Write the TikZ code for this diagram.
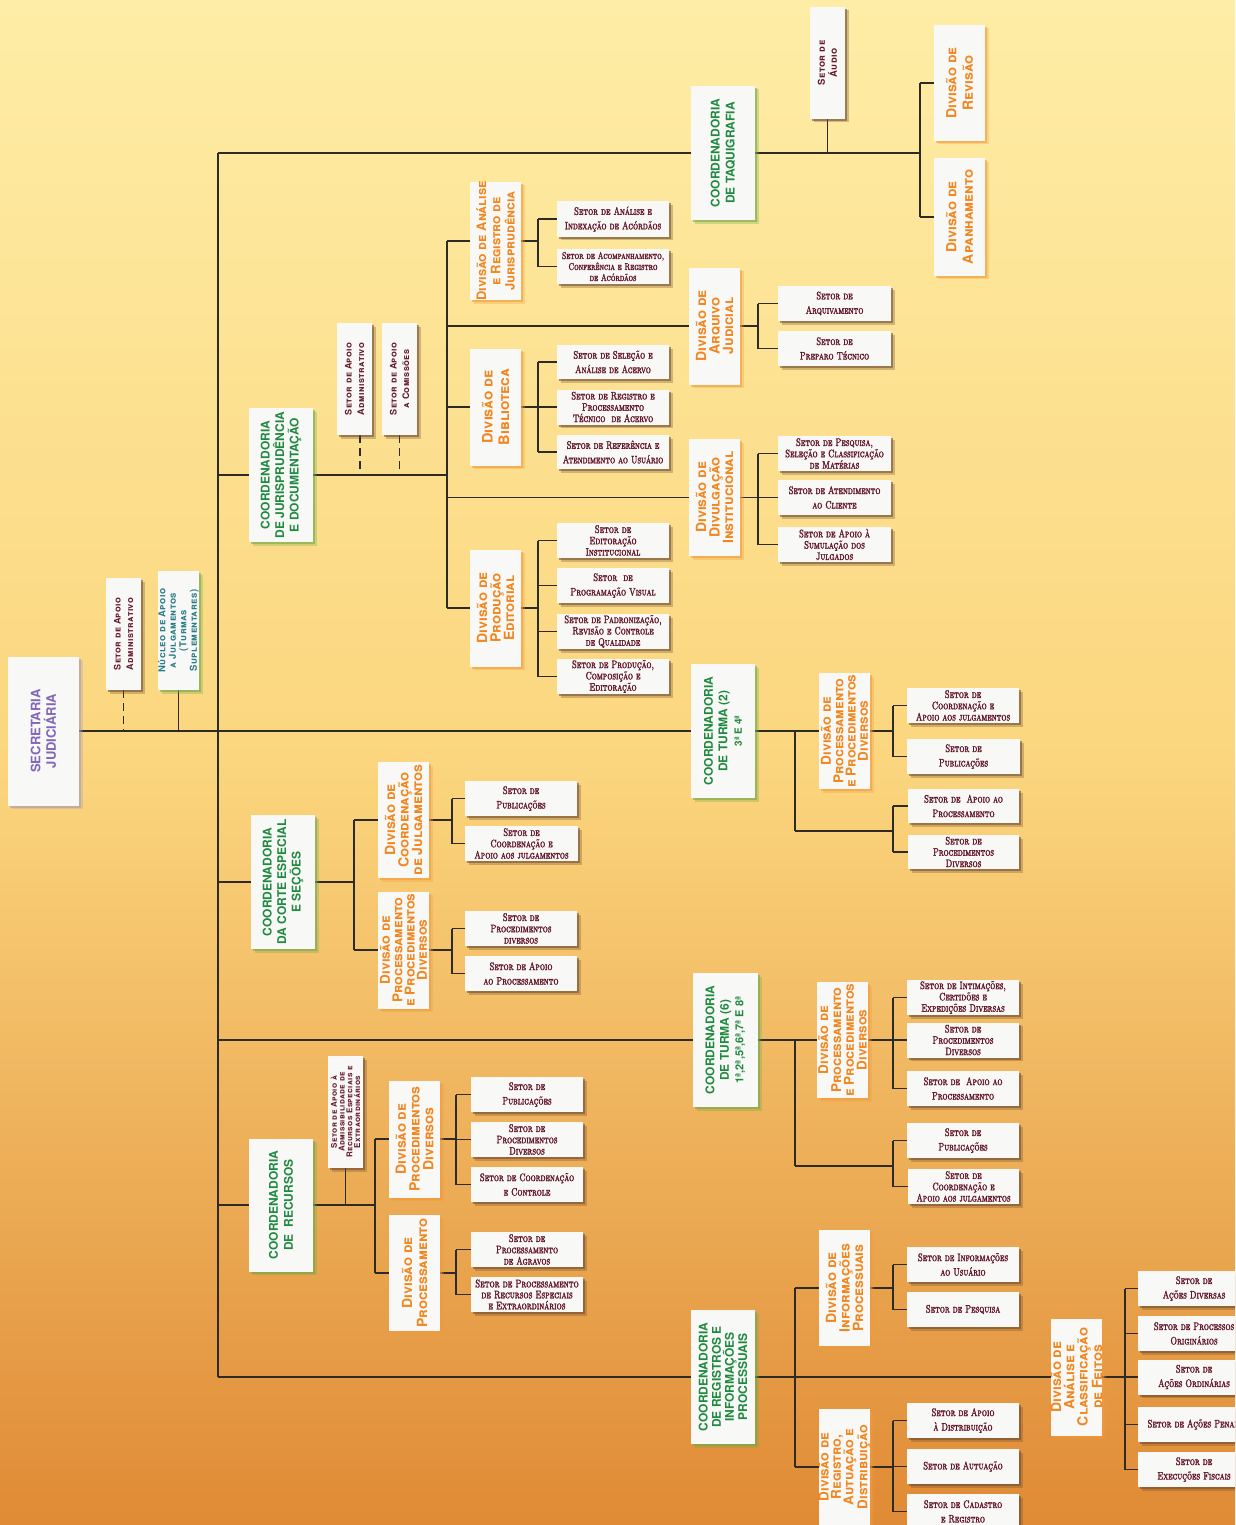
\documentclass[tikz,border=0pt]{standalone}
\usepackage{fontspec}
\setmainfont{TeX Gyre Heros}
\newfontfamily\hfont{TeX Gyre Heros}
\newfontfamily\divfont{TeX Gyre Heros}[Letters=SmallCaps]
\newfontfamily\smscfont{TeX Gyre Heros}[Letters=SmallCaps, LetterSpace=5]
\newfontfamily\setorfont{lmromancaps10-regular.otf}[FakeStretch=0.74, FakeBold=2.2]
\usetikzlibrary{shadows}
\definecolor{grn}{HTML}{1F8A3F}
\definecolor{org}{HTML}{F2861E}
\definecolor{mar}{HTML}{65182A}
\definecolor{pur}{HTML}{8466B8}
\definecolor{tea}{HTML}{2B7C88}
\definecolor{boxw}{HTML}{F8F8F7}
\definecolor{lnc}{HTML}{2E2A25}
\definecolor{shb}{HTML}{6E4A2E}
\definecolor{sho}{HTML}{F29A3A}
\definecolor{shg}{HTML}{6FA84A}
\definecolor{shp}{HTML}{A89CB0}
\definecolor{bgT}{HTML}{FEEDA6}
\definecolor{bgM}{HTML}{FBD67E}
\definecolor{bgB}{HTML}{E08A35}
\pgfdeclarelayer{background}
\pgfdeclarelayer{lines}
\pgfsetlayers{background,lines,main}
\tikzset{
  ln/.style={line width=1.2pt, draw=lnc},
  lnd/.style={ln, dash pattern=on 8pt off 5pt},
  box/.style={fill=boxw, inner sep=0pt, outer sep=0pt},
  shd/.style={box,
    drop shadow={shadow xshift=3.5pt,shadow yshift=-3.5pt,fill=#1,opacity=.3},
    drop shadow={shadow xshift=2pt,shadow yshift=-2pt,fill=#1,opacity=.55}},
  sbox/.style={shd=shb},
  dbox/.style={shd=sho},
  cbox/.style={shd=shg},
  pbox/.style={shd=shp},
  settx/.style={font=\setorfont\fontsize{10.8}{11.3}\selectfont, text=mar, align=center, inner sep=0pt},
  two/.style={font=\setorfont\fontsize{10.8}{14.5}\selectfont},
  sfs/.style 2 args={font=\setorfont\fontsize{#1}{#2}\selectfont},
  divtx/.style={rotate=90, font=\divfont\bfseries\fontsize{14}{13.5}\selectfont, text=org, align=center, inner sep=0pt},
  dfs/.style 2 args={font=\divfont\bfseries\fontsize{#1}{#2}\selectfont},
  coortx/.style={rotate=90, font=\hfont\bfseries\fontsize{12}{14.5}\selectfont, text=grn, align=center, inner sep=0pt},
  cfs/.style 2 args={font=\hfont\bfseries\fontsize{#1}{#2}\selectfont},
  smtx/.style={rotate=90, font=\smscfont\bfseries\fontsize{9}{12.5}\selectfont, text=mar, align=center, inner sep=0pt},
  smfs/.style 2 args={font=\smscfont\bfseries\fontsize{#1}{#2}\selectfont},
  sectx/.style={rotate=90, font=\hfont\bfseries\fontsize{13}{15.5}\selectfont, text=pur, align=center, inner sep=0pt},
}
\newcommand\bx[8]{\node[#1,minimum width=#5pt,minimum height=#6pt] (#2) at (#3,#4) {};
  \node[#7] at (#2.center) {#8};}
\newcommand\tree[5]{%
  \coordinate (tjx) at (#2,0);
  \draw[ln] (#1) -- (#1 -| tjx);
  \draw[ln] (#3.west -| tjx) -- (#4.west -| tjx);
  \foreach \c in {#5}{\draw[ln] (\c.west) -- (\c.west -| tjx);}
}
\begin{document}
\begin{tikzpicture}[x=1pt,y=-1pt]
\useasboundingbox (0,0) rectangle (1235,1525);
\begin{pgfonlayer}{background}
\shade[top color=bgT, bottom color=bgB, middle color=bgM] (0,0) rectangle (1235,1525);
\end{pgfonlayer}
\clip (0,0) rectangle (1235,1525);

% Secretaria
\bx{pbox}{sec}{43.5}{731}{71}{149}{sectx}{SECRETARIA\\JUDICIÁRIA}
\bx{sbox}{saaA}{123.5}{634}{35}{112}{smtx}{Setor de Apoio\\Administrativo}
\bx{cbox}{nuc}{178.5}{630.5}{41}{119}{smtx,smfs={9.5}{10.5},text=tea}{Núcleo de Apoio\\a Julgamentos\\(Turmas\\Suplementares)}

% Taquigrafia
\bx{cbox}{taq}{723}{153}{64}{134}{coortx,cfs={12}{15}}{COORDENADORIA\\DE TAQUIGRAFIA}
\bx{sbox}{aud}{827.5}{63}{35}{112}{smtx,smfs={9.5}{12}}{Setor de\\Áudio}
\bx{dbox}{rev}{959.5}{83}{51}{116}{divtx,dfs={14}{16.5}}{Divisão de\\Revisão}
\bx{dbox}{apan}{959.5}{217}{51}{117}{divtx,dfs={14}{16.5}}{Divisão de\\Apanhamento}

% Jurisprudencia
\bx{cbox}{jur}{281}{475}{64}{134}{coortx}{COORDENADORIA\\DE JURISPRUDÊNCIA\\E DOCUMENTAÇÃO}
\bx{sbox}{saaB}{354.5}{379}{35}{112}{smtx}{Setor de Apoio\\Administrativo}
\bx{sbox}{sac}{399.5}{379}{35}{112}{smtx}{Setor de Apoio\\a Comissões}

\bx{dbox}{dAJ}{495.5}{241}{51}{118}{divtx,dfs={13}{14.2}}{Divisão de Análise\\e Registro de\\Jurisprudência}
\bx{sbox}{sAI}{613}{219}{112}{35}{settx,two}{Setor de Análise e\\Indexação de Acórdãos}
\bx{sbox}{sACR}{613}{266.5}{112}{35}{settx,sfs={9.8}{11}}{Setor de Acompanhamento,\\Conferência e Registro\\de Acórdãos}

\bx{dbox}{dARQ}{714.5}{326}{51}{117}{divtx}{Divisão de\\Arquivo\\Judicial}
\bx{sbox}{sARQV}{834.5}{303.5}{113}{35}{settx,two}{Setor de\\Arquivamento}
\bx{sbox}{sPREP}{834.5}{348.5}{113}{35}{settx,two}{Setor de\\Preparo Técnico}

\bx{dbox}{dBIB}{495.5}{407}{51}{117}{divtx,dfs={14.5}{16.5}}{Divisão de\\Biblioteca}
\bx{sbox}{sSEL}{613}{362}{112}{34}{settx,two}{Setor de Seleção e\\Análise de Acervo}
\bx{sbox}{sREG}{613}{407}{112}{35}{settx}{Setor de Registro e\\Processamento\\Técnico\ \ de Acervo}
\bx{sbox}{sREF}{613}{452}{112}{34}{settx,two}{Setor de Referência e\\Atendimento ao Usuário}

\bx{dbox}{dDIV}{714.5}{497.5}{51}{117}{divtx}{Divisão de\\Divulgação\\Institucional}
\bx{sbox}{sPESQ}{834.5}{453.5}{113}{35}{settx}{Setor de Pesquisa,\\Seleção e Classificação\\de Matérias}
\bx{sbox}{sATEN}{834.5}{497.5}{113}{35}{settx,two}{Setor de Atendimento\\ao Cliente}
\bx{sbox}{sSIM}{834.5}{544.5}{113}{35}{settx}{Setor de Apoio à\\Sumulação dos\\Julgados}

\bx{dbox}{dPROD}{495.5}{608}{51}{117}{divtx}{Divisão de\\Produção\\Editorial}
\bx{sbox}{sEDIT}{613}{540.5}{112}{35}{settx}{Setor de\\Editoração\\Institucional}
\bx{sbox}{sPROG}{613}{585.5}{112}{35}{settx,two}{Setor\ \ de\\Programação Visual}
\bx{sbox}{sPADR}{613}{631.5}{112}{35}{settx}{Setor de Padronização,\\Revisão e Controle\\de Qualidade}
\bx{sbox}{sPRODC}{613}{676.5}{112}{35}{settx}{Setor de Produção,\\Composição e\\Editoração}

% Turma 2
\bx{cbox}{tTwo}{723}{731}{64}{134}{coortx}{COORDENADORIA\\DE TURMA (2)\\{\fontsize{10}{12}\selectfont 3ª E 4ª}}
\bx{dbox}{dTwo}{844.5}{731}{51}{116}{divtx,dfs={13.5}{12.3}}{Divisão de\\Processamento\\e Procedimentos\\Diversos}
\bx{sbox}{sTwoA}{963}{705.5}{112}{35}{settx}{Setor de\\Coordenação e\\Apoio aos julgamentos}
\bx{sbox}{sTwoB}{963.5}{756.5}{113}{35}{settx,two}{Setor de\\Publicações}
\bx{sbox}{sTwoC}{963.5}{806}{111}{34}{settx,two}{Setor de\ \ Apoio ao\\Processamento}
\bx{sbox}{sTwoD}{963.5}{852}{111}{34}{settx}{Setor de\\Procedimentos\\Diversos}

% Corte especial
\bx{cbox}{corte}{283}{882}{64}{134}{coortx}{COORDENADORIA\\DA CORTE ESPECIAL\\E SEÇÕES}
\bx{dbox}{dCJ}{403.5}{820}{51}{116}{divtx}{Divisão de\\Coordenação\\de Julgamentos}
\bx{dbox}{dCPD}{403.5}{950}{51}{117}{divtx,dfs={13.5}{12.3}}{Divisão de\\Processamento\\e Procedimentos\\Diversos}
\bx{sbox}{sCPUB}{521}{798.5}{112}{35}{settx,two}{Setor de\\Publicações}
\bx{sbox}{sCCOO}{521.5}{843.5}{113}{35}{settx}{Setor de\\Coordenação e\\Apoio aos julgamentos}
\bx{sbox}{sCPROC}{521}{928.5}{112}{35}{settx}{Setor de\\Procedimentos\\diversos}
\bx{sbox}{sCAPO}{521}{973.5}{112}{35}{settx,two}{Setor de Apoio\\ao Processamento}

% Turma 6
\bx{cbox}{tSix}{725.5}{1040}{65}{134}{coortx}{COORDENADORIA\\DE TURMA (6)\\{\fontsize{11}{12}\selectfont 1ª,2ª,5ª,6ª,7ª E 8ª}}
\bx{dbox}{dSix}{842.5}{1040}{51}{116}{divtx,dfs={13.5}{12.8}}{Divisão de\\Processamento\\e Procedimentos\\Diversos}
\bx{sbox}{sSixA}{963}{997.5}{112}{35}{settx}{Setor de Intimações,\\Certidões e\\Expedições Diversas}
\bx{sbox}{sSixB}{963}{1040}{112}{35}{settx}{Setor de\\Procedimentos\\Diversos}
\bx{sbox}{sSixC}{963}{1088.5}{112}{35}{settx,two}{Setor de\ \ Apoio ao\\Processamento}
\bx{sbox}{sSixD}{963}{1140.5}{112}{35}{settx,two}{Setor de\\Publicações}
\bx{sbox}{sSixE}{963.5}{1186.5}{111}{35}{settx}{Setor de\\Coordenação e\\Apoio aos julgamentos}

% Recursos
\bx{cbox}{rec}{281}{1205}{64}{133}{coortx,cfs={12}{15}}{COORDENADORIA\\DE\ \ RECURSOS}
\bx{sbox}{sADM}{345.5}{1112}{35}{112}{smtx,smfs={8}{7.8}}{Setor de Apoio à\\Admissibilidade de\\Recursos Especiais e\\Extraordinários}
\bx{dbox}{dRPD}{414.5}{1139}{51}{117}{divtx,dfs={14}{13.7}}{Divisão de\\Procedimentos\\Diversos}
\bx{dbox}{dRPROC}{414.5}{1273}{51}{116}{divtx,dfs={14}{15}}{Divisão de\\Processamento}
\bx{sbox}{sRPUB}{527}{1094.5}{112}{35}{settx,two}{Setor de\\Publicações}
\bx{sbox}{sRPROC}{527}{1139.5}{112}{35}{settx}{Setor de\\Procedimentos\\Diversos}
\bx{sbox}{sRCC}{527}{1184.5}{112}{35}{settx,two}{Setor de Coordenação\\e Controle}
\bx{sbox}{sRAGR}{527}{1249.5}{112}{35}{settx}{Setor de\\Processamento\\de Agravos}
\bx{sbox}{sRREC}{527}{1294.5}{112}{35}{settx,sfs={11}{11}}{Setor de Processamento\\de Recursos Especiais\\e Extraordinários}

% Registros
\bx{cbox}{reg}{723}{1377}{64}{134}{coortx,cfs={12}{13.2}}{COORDENADORIA\\DE REGISTROS E\\INFORMAÇÕES\\PROCESSUAIS}
\bx{dbox}{dINF}{844.5}{1288}{51}{116}{divtx}{Divisão de\\Informações\\Processuais}
\bx{dbox}{dRAUT}{844.5}{1467}{51}{117}{divtx,dfs={13.5}{12.4}}{Divisão de\\Registro,\\Autuação e\\Distribuição}
\bx{sbox}{sINFU}{963}{1264.5}{112}{35}{settx,two}{Setor de Informações\\ao Usuário}
\bx{sbox}{sPESQb}{963}{1309.5}{112}{35}{settx}{Setor de Pesquisa}
\bx{sbox}{sAPDIST}{963}{1420.5}{112}{35}{settx,two}{Setor de Apoio\\à Distribuição}
\bx{sbox}{sAUT}{963}{1466.5}{112}{35}{settx}{Setor de Autuação}
\bx{sbox}{sCAD}{963}{1511.5}{112}{35}{settx,two}{Setor de Cadastro\\e Registro}
\bx{dbox}{dACF}{1076.5}{1377}{51}{117}{divtx,dfs={14}{13.3}}{Divisão de\\Análise e\\Classificação\\de Feitos}
\bx{sbox}{sAD}{1194}{1288.5}{112}{35}{settx,two}{Setor de\\Ações Diversas}
\bx{sbox}{sPO}{1194}{1333.5}{112}{35}{settx,two}{Setor de Processos\\Originários}
\bx{sbox}{sAO}{1194}{1377}{112}{35}{settx,two}{Setor de\\Ações Ordinárias}
\bx{sbox}{sAP}{1194}{1424.5}{112}{35}{settx}{Setor de Ações Penais}
\bx{sbox}{sEF}{1194}{1469.5}{112}{35}{settx,two}{Setor de\\Execuções Fiscais}

% connectors
\coordinate (spT) at (218,153);
\coordinate (spB) at (218,1377);
\coordinate (tTwoJ) at (795,831);
\coordinate (tSixJ) at (795,1166);
\coordinate (saaBd) at ([xshift=5.5pt]saaB.south);
\begin{pgfonlayer}{lines}
\draw[ln] (spT) -- (spB);
\draw[ln] (sec.east) -- (tTwo.west);
\draw[lnd] (saaA.south) -- (saaA.south |- sec.east);
\draw[ln] (nuc.south) -- (nuc.south |- sec.east);
% taquigrafia
\draw[ln] (spT) -- (taq.west);
\tree{taq.east}{920}{rev}{apan}{rev,apan}
\draw[ln] (aud.south) -- (aud.south |- taq.east);
% jurisprudencia
\draw[ln] (jur.west -| spT) -- (jur.west);
\tree{jur.east}{447}{dAJ}{dPROD}{dAJ,dARQ,dBIB,dDIV,dPROD}
\draw[lnd] (saaBd) -- (saaBd |- jur.east);
\draw[lnd] (sac.south) -- (sac.south |- jur.east);
\tree{dAJ.east}{538}{sAI}{sACR}{sAI,sACR}
\tree{dARQ.east}{758}{sARQV}{sPREP}{sARQV,sPREP}
\tree{dBIB.east}{538}{sSEL}{sREF}{sSEL,sREG,sREF}
\tree{dDIV.east}{758}{sPESQ}{sSIM}{sPESQ,sATEN,sSIM}
\tree{dPROD.east}{538}{sEDIT}{sPRODC}{sEDIT,sPROG,sPADR,sPRODC}
% turma 2
\draw[ln] (tTwo.east) -- (dTwo.west);
\tree{dTwo.east}{893}{sTwoA}{sTwoB}{sTwoA,sTwoB}
\draw[ln] (tTwo.east -| tTwoJ) -- (tTwoJ);
\tree{tTwoJ}{893}{sTwoC}{sTwoD}{sTwoC,sTwoD}
% corte
\draw[ln] (corte.west -| spT) -- (corte.west);
\tree{corte.east}{354}{dCJ}{dCPD}{dCJ,dCPD}
\tree{dCJ.east}{452}{sCPUB}{sCCOO}{sCPUB,sCCOO}
\tree{dCPD.east}{452}{sCPROC}{sCAPO}{sCPROC,sCAPO}
% turma 6
\draw[ln] (tSix.west -| spT) -- (tSix.west);
\draw[ln] (tSix.east) -- (dSix.west);
\tree{dSix.east}{893}{sSixA}{sSixC}{sSixA,sSixB,sSixC}
\draw[ln] (tSix.east -| tSixJ) -- (tSixJ);
\tree{tSixJ}{893}{sSixD}{sSixE}{sSixD,sSixE}
% recursos
\draw[ln] (rec.west -| spT) -- (rec.west);
\tree{rec.east}{375}{dRPD}{dRPROC}{dRPD,dRPROC}
\draw[ln] (sADM.south) -- (sADM.south |- rec.east);
\tree{dRPD.east}{456}{sRPUB}{sRCC}{sRPUB,sRPROC,sRCC}
\tree{dRPROC.east}{456}{sRAGR}{sRREC}{sRAGR,sRREC}
% registros
\draw[ln] (spB) -- (reg.west);
\draw[ln] (reg.east) -- (dACF.west);
\tree{reg.east}{795}{dINF}{dRAUT}{dINF,dRAUT}
\tree{dINF.east}{893}{sINFU}{sPESQb}{sINFU,sPESQb}
\tree{dRAUT.east}{893}{sAPDIST}{sCAD}{sAPDIST,sAUT,sCAD}
\tree{dACF.east}{1125}{sAD}{sEF}{sAD,sPO,sAO,sAP,sEF}
\end{pgfonlayer}
\end{tikzpicture}
\end{document}
